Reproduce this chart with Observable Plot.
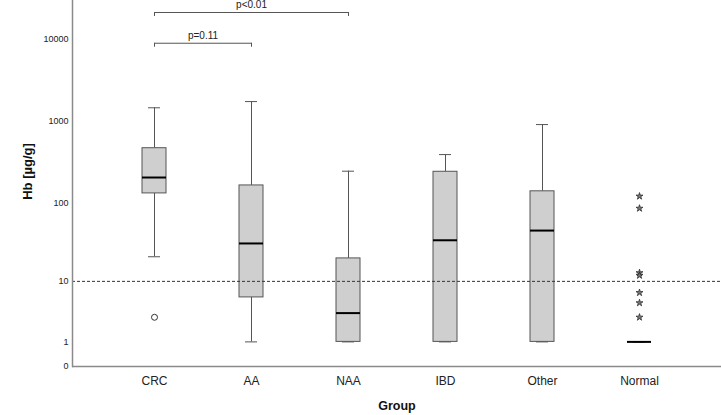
<!DOCTYPE html>
<html><head><meta charset="utf-8">
<script src="https://cdn.jsdelivr.net/npm/d3@7"></script>
<script src="https://cdn.jsdelivr.net/npm/@observablehq/plot@0.6"></script>
<style>body{margin:0;background:#fff}</style>
</head><body><div id="chart"></div>
<script>
// ---- data ----
const groups = ["CRC", "AA", "NAA", "IBD", "Other", "Normal"];
const whiskerLow  = [21, 1, 1, 1, 1, 1];
const q1          = [130, 6, 1, 1, 1, 1];
const median      = [204, 31, 3.5, 34, 45, 1];
const q3          = [467, 163, 20, 240, 138, 1];
const whiskerHigh = [1460, 1740, 244, 390, 910, 1];
const outlierGroup = ["CRC"];
const outlierValue = [3];
const extremeGroup = ["Normal", "Normal", "Normal", "Normal", "Normal", "Normal", "Normal"];
const extremeValue = [120, 85, 13, 12, 7, 5, 3];
const yTicks = [0, 1, 10, 100, 1000, 10000];
const cutoff = [10];
const bracketFrom  = ["CRC", "CRC"];
const bracketTo    = ["AA", "NAA"];
const bracketLevel = [9000, 21400];
const bracketLabel = ["p=0.11", "p<0.01"];
const xTitle = "Group";
const yTitle = "Hb [\u00b5g/g]";

// ---- layout ----
const W = 721, H = 415;
const mL = 72, mR = 0, mT = 0, mB = 49;
const padIn = 0.75, padOut = 0.72;
const step = (W - mL - mR) / (groups.length - padIn + 2 * padOut);

const boxes = groups.map((g, i) => ({group: g, lo: whiskerLow[i], q1: q1[i], med: median[i], q3: q3[i], hi: whiskerHigh[i]}));
const outliers = outlierGroup.map((g, i) => ({group: g, value: outlierValue[i]}));
const extremes = extremeGroup.map((g, i) => ({group: g, value: extremeValue[i]}));
const brackets = bracketFrom.map((f, i) => ({from: f, to: bracketTo[i], level: bracketLevel[i], label: bracketLabel[i],
  shift: (groups.indexOf(bracketTo[i]) - groups.indexOf(f)) * step / 2}));
const bracketEnds = brackets.flatMap(b => [{group: b.from, level: b.level}, {group: b.to, level: b.level}]);

const axisColor = "#8a8a8a";
const boxStroke = "#555";

const chart = Plot.plot({
  width: W, height: H,
  marginLeft: mL, marginRight: mR, marginTop: mT, marginBottom: mB,
  style: {fontFamily: "'Liberation Sans', Arial, sans-serif", background: "#fff", color: "#222"},
  x: {type: "band", domain: groups, paddingInner: padIn, paddingOuter: padOut, align: 0.5},
  y: {type: "symlog", constant: 1, domain: [0, 30000]},
  marks: [
    Plot.axisY({ticks: yTicks, tickSize: 0, tickPadding: 4, tickFormat: d => String(d), fontSize: 9, label: null}),
    Plot.axisX({tickSize: 0, tickPadding: 10, fontSize: 12, label: null}),
    // whiskers
    Plot.ruleX(boxes, {x: "group", y1: "lo", y2: "q1", stroke: boxStroke, strokeWidth: 1}),
    Plot.ruleX(boxes, {x: "group", y1: "q3", y2: "hi", stroke: boxStroke, strokeWidth: 1}),
    Plot.tickY(boxes, {x: "group", y: "hi", stroke: boxStroke, strokeWidth: 1, inset: 6}),
    Plot.tickY(boxes, {x: "group", y: "lo", stroke: boxStroke, strokeWidth: 1, inset: 6}),
    // boxes
    Plot.barY(boxes.filter(d => d.q3 > d.q1), {x: "group", y1: "q1", y2: "q3", fill: "#cfcfcf", stroke: boxStroke, strokeWidth: 1}),
    Plot.tickY(boxes, {x: "group", y: "med", stroke: "#000", strokeWidth: 2}),
    // outliers
    Plot.dot(outliers, {x: "group", y: "value", r: 3, stroke: "#333", fill: "none", strokeWidth: 1}),
    Plot.dot(extremes, {x: "group", y: "value", symbol: "star", r: 2.2, fill: "#777", stroke: "#222", strokeWidth: 0.7}),
    // cutoff line
    Plot.ruleY(cutoff, {stroke: "#333", strokeWidth: 1, strokeDasharray: "3,2"}),
    // axis lines
    Plot.ruleY([0], {stroke: axisColor, strokeWidth: 1.5}),
    Plot.frame({anchor: "left", stroke: axisColor, strokeWidth: 1.5}),
    // significance brackets
    Plot.link(brackets, {x1: "from", x2: "to", y1: "level", y2: "level", stroke: "#555", strokeWidth: 1}),
    Plot.ruleX(bracketEnds, {x: "group", y1: "level", y2: "level", insetTop: 0, insetBottom: -4, stroke: "#555", strokeWidth: 1}),
    ...brackets.map(b => Plot.text([b], {x: "from", y: "level", text: "label", dx: b.shift, textAnchor: "middle", lineAnchor: "bottom", dy: -4, fontSize: 10, fill: "#222"})),
    // titles
    Plot.text([xTitle], {frameAnchor: "bottom", textAnchor: "middle", lineAnchor: "middle", dy: 39, fontSize: 12.5, fontWeight: "bold", fill: "#111"}),
    Plot.text([yTitle], {frameAnchor: "left", textAnchor: "middle", rotate: -90, lineAnchor: "middle", dx: -45, dy: -12, fontSize: 13, fontWeight: "bold", fill: "#111"})
  ]
});
document.getElementById("chart").append(chart);
</script>
</body></html>
